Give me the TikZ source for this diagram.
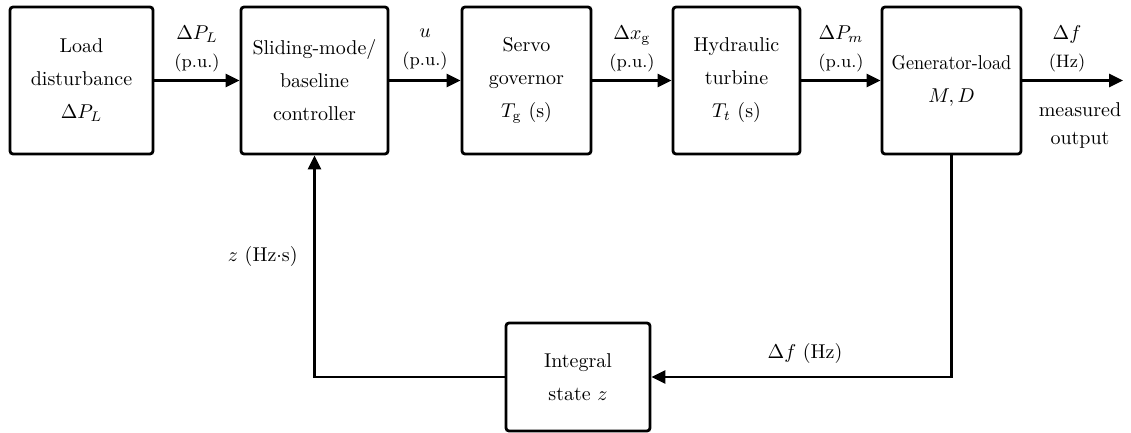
\documentclass[tikz,border=0pt]{standalone}
\usetikzlibrary{arrows.meta}
\begin{document}
\begin{tikzpicture}[x=0.5pt,y=-0.5pt,
  blk/.style={draw, line width=1.4pt, rounded corners=1.5pt, align=center, inner sep=0pt, font=\fontsize{10}{16.5}\selectfont},
  lbl/.style={align=center, inner sep=0pt, font=\fontsize{10}{14}\selectfont},
  arr/.style={line width=1.4pt, -{Triangle[length=7pt,width=6.5pt]}}]
\useasboundingbox (0,0) rectangle (1131,433);
\node[blk, minimum width=71.5pt, minimum height=73.5pt] (load) at (81.5,80.5) {Load\\disturbance\\$\Delta P_L$};
\node[blk, minimum width=73.5pt, minimum height=73.5pt] (ctrl) at (314.5,80.5) {Sliding-mode/\\baseline\\controller};
\node[blk, minimum width=64.5pt, minimum height=73.5pt] (servo) at (526.5,80.5) {Servo\\governor\\$T_{\mathrm{g}}$ (s)};
\node[blk, minimum width=63.5pt, minimum height=73.5pt] (turb) at (736.5,80.5) {Hydraulic\\turbine\\$T_t$ (s)};
\node[blk, minimum width=69.5pt, minimum height=73.5pt] (gen) at (951.5,80.5) {\scalebox{0.91}[1]{Generator-load}\\$M, D$};
\node[blk, minimum width=72pt, minimum height=54pt] (integ) at (578,377) {Integral\\state $z$};
\coordinate (out) at (1123,80.5);
\draw[arr] (load) -- (ctrl);
\draw[arr] (ctrl) -- (servo);
\draw[arr] (servo) -- (turb);
\draw[arr] (turb) -- (gen);
\draw[arr] (gen) -- (out);
\draw[arr] (gen.south) |- (integ.east);
\draw[arr] (integ.west) -| (ctrl.south);
\node[lbl] (l1) at (197,49) {$\Delta P_L$\\{\small (p.u.)}};
\node[lbl] (l2) at (425,49) {$u$\\{\small (p.u.)}};
\node[lbl] (l3) at (632,49) {$\Delta x_{\mathrm{g}}$\\{\small (p.u.)}};
\node[lbl] (l4) at (841,49) {$\Delta P_m$\\{\small (p.u.)}};
\node[lbl] (l5) at (1067,49) {$\Delta f$\\{\small (Hz)}};
\node[lbl] (l6) at (1080,126) {measured\\output};
\node[lbl, anchor=east] (l7) at (298,257) {$z$ (Hz$\cdot$s)};
\node[lbl] (l8) at (805,353) {$\Delta f$ (Hz)};
\end{tikzpicture}
\end{document}
